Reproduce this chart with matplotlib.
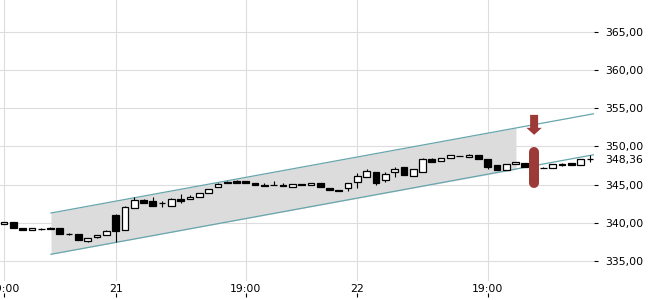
import numpy as np
import matplotlib
matplotlib.use("Agg")
import matplotlib.pyplot as plt
from matplotlib.patches import FancyArrow

# candle values, one per bar (open, high, low, close)
opens = [339.88, 340.10, 339.25, 339.10, 339.20, 339.38, 339.30, 338.55, 338.50, 337.65,
         338.10, 338.45, 341.05, 339.05, 342.00, 343.00, 342.90, 342.60, 342.25, 343.15,
         343.15, 343.40, 343.95, 344.70, 345.15, 345.45, 345.45, 345.20, 344.95, 344.95,
         345.00, 344.75, 345.10, 344.90, 345.15, 344.55, 344.30, 344.55, 345.40, 346.05,
         346.65, 345.65, 346.70, 347.30, 346.15, 346.65, 348.35, 348.10, 348.50, 348.75,
         348.65, 348.90, 348.35, 347.60, 346.95, 347.75, 347.85, 347.35, 347.20, 347.20,
         347.65, 347.80, 347.60, 348.30]
closes = [340.12, 339.35, 339.10, 339.30, 339.22, 339.22, 338.55, 338.50, 337.75, 338.00,
          338.40, 338.95, 338.95, 342.10, 343.00, 342.60, 342.25, 342.65, 343.15, 342.90,
          343.40, 343.95, 344.45, 345.10, 345.40, 345.15, 345.15, 344.95, 344.85, 344.90,
          344.85, 345.10, 344.95, 345.15, 344.75, 344.35, 344.10, 345.20, 346.15, 346.80,
          345.25, 346.40, 347.05, 346.30, 347.05, 348.35, 347.95, 348.50, 348.90, 348.78,
          348.90, 348.40, 347.30, 346.95, 347.70, 348.00, 347.35, 347.20, 347.22, 347.70,
          347.55, 347.60, 348.35, 348.36]
highs = [340.15, 340.15, 339.25, 339.30, 339.30, 339.45, 339.30, 338.60, 338.50, 338.05,
         338.45, 339.00, 341.10, 342.20, 343.40, 343.05, 343.40, 342.90, 343.20, 343.80,
         343.60, 343.95, 344.45, 345.15, 345.45, 345.55, 345.45, 345.20, 345.20, 345.45,
         345.15, 345.10, 345.10, 345.20, 345.25, 344.55, 344.30, 345.20, 346.55, 347.10,
         346.65, 346.65, 347.35, 347.30, 347.05, 348.50, 348.50, 348.50, 348.90, 348.80,
         349.00, 348.90, 348.35, 347.60, 347.70, 348.00, 347.85, 347.35, 347.25, 347.70,
         347.85, 347.85, 348.35, 348.90]
lows = [339.85, 339.30, 339.00, 339.10, 339.10, 339.20, 338.55, 338.45, 337.75, 337.50,
        338.05, 338.35, 337.50, 339.05, 341.95, 342.55, 342.20, 342.10, 342.20, 342.60,
        343.10, 343.40, 343.95, 344.70, 345.15, 345.15, 345.15, 344.95, 344.85, 344.90,
        344.85, 344.75, 344.95, 344.90, 344.75, 344.35, 344.10, 344.15, 344.55, 346.05,
        345.00, 345.30, 346.00, 346.20, 346.15, 346.65, 347.95, 348.10, 348.50, 348.70,
        348.65, 348.40, 347.05, 346.95, 346.95, 347.75, 347.35, 347.20, 347.15, 347.20,
        347.45, 347.60, 347.60, 348.00]
last_price = 348.36

# x axis labels (bar index positions)
tick_pos = [0, 12, 26, 38, 52]
tick_labels = ["19:00", "21", "19:00", "22", "19:00"]
y_ticks = [335, 340, 345, 350, 355, 360, 365]

# trend channel
chan_x = [5.05, 55.05, 63.44]
chan_upper = [341.28, 352.42, 354.29]
chan_lower = [335.87, 346.98, 348.92]

# signal marker
sig_idx = 57
sig_arrow = [354.14, 351.52]
sig_bar = [345.2, 349.3]

red = "#9b3a37"
teal = "#67a6ad"
grid = "#dddddd"

plt.rcParams["font.family"] = "DejaVu Sans"
fig = plt.figure(figsize=(6.5, 3), dpi=100)
ax = fig.add_axes([0, 19 / 300, 594 / 650, 281 / 300])

x = np.arange(len(opens))
o = np.array(opens)
c = np.array(closes)
up = c >= o

ax.fill_between(chan_x[:2], chan_lower[:2], chan_upper[:2], color="#dcdcdc", lw=0, zorder=1)
ax.plot([chan_x[0], chan_x[2]], [chan_upper[0], chan_upper[2]], color=teal, lw=0.9, zorder=2)
ax.plot([chan_x[0], chan_x[2]], [chan_lower[0], chan_lower[2]], color=teal, lw=0.9, zorder=2)

ax.vlines(x, lows, highs, color="black", lw=0.8, zorder=3)
bottom = np.minimum(o, c)
height = np.abs(c - o)
ax.bar(x[up], height[up], bottom=bottom[up], width=0.72, color="white",
       edgecolor="black", lw=0.9, zorder=4)
ax.bar(x[~up], height[~up], bottom=bottom[~up], width=0.72, color="black",
       edgecolor="black", lw=0.9, zorder=4)

# signal: arrow down + rounded bar
ax.add_patch(FancyArrow(sig_idx, sig_arrow[0], 0, sig_arrow[1] - sig_arrow[0],
                        width=0.86, head_width=1.65, head_length=0.92,
                        length_includes_head=True, color=red, lw=0, zorder=6))
ax.plot([sig_idx, sig_idx], sig_bar, color=red, lw=7.2, solid_capstyle="round", zorder=6)

ax.set_xlim(-0.43, 63.44)
ax.set_ylim(332.37, 369.19)

ax.set_xticks(tick_pos)
ax.set_xticklabels(tick_labels)
ax.set_yticks(y_ticks)
ax.set_yticklabels([f"{v:.2f}".replace(".", ",") for v in y_ticks])
ax.set_yticks([last_price], minor=True)
ax.set_yticklabels([f"{last_price:.2f}".replace(".", ",")], minor=True)
ax.yaxis.tick_right()

ax.grid(True, color=grid, lw=0.8, zorder=0)
ax.set_axisbelow(True)
for s in ax.spines.values():
    s.set_visible(False)

ax.tick_params(axis="x", length=0, pad=2, labelsize=7.8)
ax.tick_params(axis="y", which="major", direction="out", length=3, pad=5, labelsize=7.8)
ax.tick_params(axis="y", which="minor", length=0, pad=8, labelsize=7.8)

# small tick marks below the time labels
sec = ax.secondary_xaxis(-0.057)
sec.set_xticks(tick_pos)
sec.tick_params(direction="in", length=3, labelbottom=False, width=0.8)
sec.spines["bottom"].set_visible(False)

fig.savefig("out.png", dpi=100)
